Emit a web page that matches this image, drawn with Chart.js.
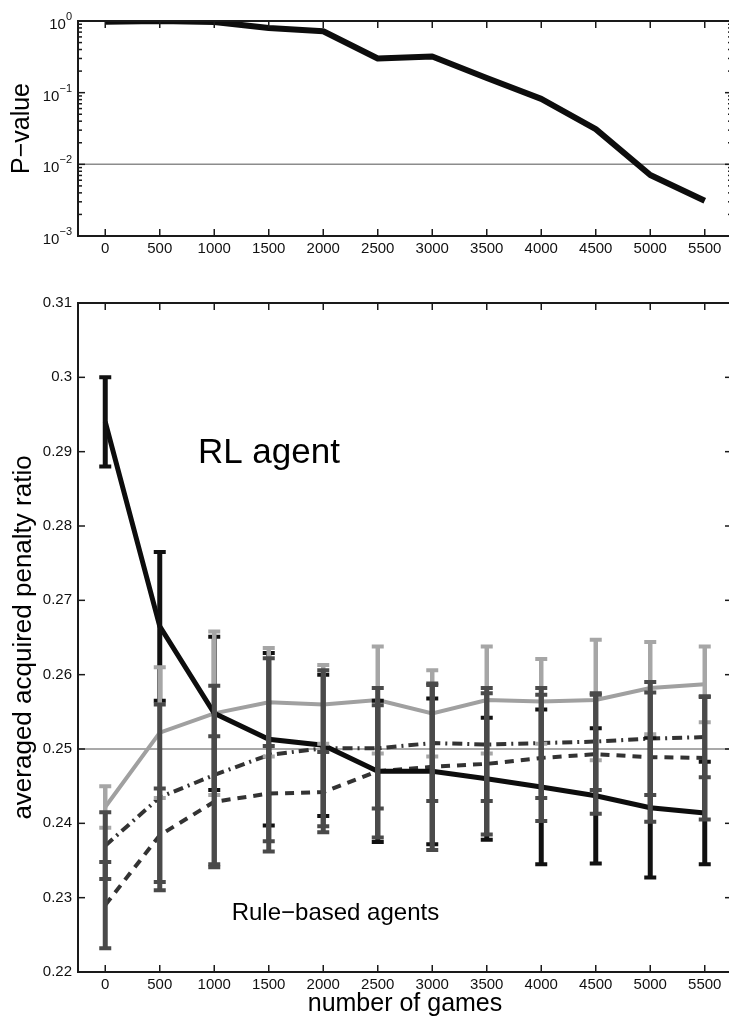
<!DOCTYPE html>
<html>
<head>
<meta charset="utf-8">
<script src="https://cdn.jsdelivr.net/npm/chart.js@4.4.1/dist/chart.umd.min.js"></script>
<style>
  html, body { margin: 0; padding: 0; width: 729px; height: 1017px; overflow: hidden; background: #fff; }
  canvas { position: absolute; left: 0; }
  #pvalue { top: 0; }
  #penalty { top: 280px; }
</style>
</head>
<body>
<canvas id="pvalue" width="736" height="262" style="width:736px;height:262px"></canvas>
<canvas id="penalty" width="736" height="737" style="width:736px;height:737px"></canvas>
<script>
// number of training games (x axis of both panels)
const games = [0, 500, 1000, 1500, 2000, 2500, 3000, 3500, 4000, 4500, 5000, 5500];
const xTickValues = [0, 500, 1000, 1500, 2000, 2500, 3000, 3500, 4000, 4500, 5000, 5500];

// top panel: p-value of the test
const pValues = [0.98, 1.0, 0.97, 0.80, 0.72, 0.30, 0.32, 0.16, 0.082, 0.031, 0.0071, 0.0031];
const pDecades = [0, -1, -2, -3];

// bottom panel: averaged acquired penalty ratio, mean and error
const rlMean = [0.294, 0.2665, 0.2548, 0.2513, 0.2505, 0.247, 0.247, 0.246, 0.2449, 0.2437, 0.2421, 0.2414];
const rlErr = [0.006, 0.010, 0.0103, 0.0116, 0.0095, 0.0095, 0.0098, 0.0082, 0.0104, 0.0091, 0.0094, 0.0069];
const ruleAMean = [0.2422, 0.2522, 0.2548, 0.2563, 0.256, 0.2566, 0.2548, 0.2566, 0.2564, 0.2566, 0.2582, 0.2587];
const ruleAErr = [0.0028, 0.0088, 0.011, 0.0073, 0.0053, 0.0072, 0.0058, 0.0072, 0.0057, 0.0081, 0.0062, 0.0051];
const ruleBMean = [0.237, 0.2435, 0.2465, 0.2492, 0.2501, 0.2501, 0.2508, 0.2506, 0.2508, 0.251, 0.2514, 0.2516];
const ruleBErr = [0.0045, 0.0125, 0.012, 0.013, 0.0105, 0.0081, 0.0078, 0.0076, 0.0074, 0.0065, 0.0076, 0.0054];
const ruleCMean = [0.229, 0.2384, 0.2429, 0.244, 0.2442, 0.247, 0.2476, 0.248, 0.2488, 0.2493, 0.2489, 0.2488];
const ruleCErr = [0.0058, 0.0063, 0.0088, 0.0064, 0.0054, 0.0089, 0.0112, 0.0095, 0.0085, 0.008, 0.0087, 0.0083];
const ratioTicks = [0.22, 0.23, 0.24, 0.25, 0.26, 0.27, 0.28, 0.29, 0.3, 0.31];

const FONT = '"Liberation Sans", Arial, Helvetica, sans-serif';
const AXIS = '#1a1a1a';

const toPts = (ys) => ys.map((v, i) => ({ x: games[i], y: v }));

// matlab-like box with inward ticks, plus a thin reference line
const boxTicks = {
  id: 'boxTicks',
  beforeDatasetsDraw(chart, args, opts) {
    const { ctx, chartArea: a, scales: { y } } = chart;
    const py = y.getPixelForValue(opts.refLine);
    ctx.save();
    ctx.strokeStyle = '#8c8c8c';
    ctx.lineWidth = 1.5;
    ctx.beginPath();
    ctx.moveTo(a.left, py);
    ctx.lineTo(a.right, py);
    ctx.stroke();
    ctx.restore();
  },
  afterDraw(chart, args, opts) {
    const { ctx, chartArea: a, scales: { x, y } } = chart;
    const seg = (x1, y1, x2, y2) => {
      ctx.beginPath();
      ctx.moveTo(x1, y1);
      ctx.lineTo(x2, y2);
      ctx.stroke();
    };
    ctx.save();
    ctx.strokeStyle = AXIS;
    ctx.lineWidth = 1.5;
    xTickValues.forEach((v) => {
      const px = x.getPixelForValue(v);
      seg(px, a.bottom, px, a.bottom - 7);
      seg(px, a.top, px, a.top + 7);
    });
    opts.yMajor.forEach((v) => {
      const py = y.getPixelForValue(v);
      seg(a.left, py, a.left + 7, py);
      seg(a.right, py, a.right - 7, py);
    });
    (opts.yMinor || []).forEach((v) => {
      const py = y.getPixelForValue(v);
      seg(a.left, py, a.left + 4, py);
      seg(a.right, py, a.right - 4, py);
    });
    ctx.lineWidth = 2;
    ctx.strokeRect(a.left, a.top, a.right - a.left, a.bottom - a.top);

    if (opts.powerLabels) {
      // 10^k labels for the log axis
      pDecades.forEach((k) => {
        const py = y.getPixelForValue(Math.pow(10, k));
        const exp = k === 0 ? '0' : '\u2212' + (-k);
        ctx.font = '11px ' + FONT;
        const ew = ctx.measureText(exp).width;
        ctx.fillStyle = '#111';
        ctx.textBaseline = 'alphabetic';
        ctx.textAlign = 'left';
        ctx.fillText(exp, 72 - ew, py - 1);
        ctx.font = '15px ' + FONT;
        ctx.textAlign = 'right';
        ctx.fillText('10', 72 - ew, py + 8);
      });
    }
    ctx.restore();
  },
};

// vertical error bars with caps, drawn from dataset.errors
const errorBars = {
  id: 'errorBars',
  afterDatasetsDraw(chart) {
    const { ctx, scales: { x, y } } = chart;
    ctx.save();
    chart.data.datasets.forEach((ds) => {
      if (!ds.errors) return;
      ctx.strokeStyle = ds.errorColor;
      ds.data.forEach((p, i) => {
        const px = x.getPixelForValue(p.x);
        const top = y.getPixelForValue(p.y + ds.errors[i]);
        const bot = y.getPixelForValue(p.y - ds.errors[i]);
        ctx.lineWidth = ds.errorWidth;
        ctx.beginPath();
        ctx.moveTo(px, top);
        ctx.lineTo(px, bot);
        ctx.stroke();
        ctx.lineWidth = 4;
        ctx.beginPath();
        ctx.moveTo(px - 6, top);
        ctx.lineTo(px + 6, top);
        ctx.moveTo(px - 6, bot);
        ctx.lineTo(px + 6, bot);
        ctx.stroke();
      });
    });
    ctx.restore();
  },
};

const textNotes = {
  id: 'textNotes',
  afterDraw(chart, args, opts) {
    const { ctx, scales: { x, y } } = chart;
    ctx.save();
    ctx.fillStyle = '#000';
    ctx.textAlign = 'left';
    ctx.textBaseline = 'alphabetic';
    opts.notes.forEach((n) => {
      ctx.font = n.size + 'px ' + FONT;
      ctx.fillText(n.text, x.getPixelForValue(n.x), y.getPixelForValue(n.y));
    });
    ctx.restore();
  },
};

const xScale = (height) => ({
  type: 'linear',
  min: -250,
  max: 5750,
  afterBuildTicks(s) { s.ticks = xTickValues.map((v) => ({ value: v })); },
  afterFit(s) { s.height = height; },
  grid: { display: false, drawTicks: false },
  border: { display: false },
  ticks: {
    color: '#111',
    padding: 4,
    font: { family: FONT, size: 15 },
    maxRotation: 0,
    autoSkip: false,
    callback: (v) => String(v),
  },
});

const minorLog = [];
[-3, -2, -1].forEach((k) => {
  for (let m = 2; m <= 9; m++) minorLog.push(m * Math.pow(10, k));
});

new Chart(document.getElementById('pvalue'), {
  type: 'line',
  data: {
    datasets: [{
      data: toPts(pValues),
      borderColor: '#0d0d0d',
      borderWidth: 6,
      borderJoinStyle: 'round',
      pointRadius: 0,
      tension: 0,
    }],
  },
  options: {
    responsive: false,
    animation: false,
    layout: { padding: { top: 21, right: 4, left: 0, bottom: 0 } },
    plugins: {
      legend: { display: false },
      tooltip: { enabled: false },
      boxTicks: { refLine: 0.01, yMajor: pDecades.map((k) => Math.pow(10, k)), yMinor: minorLog, powerLabels: true },
    },
    scales: {
      x: xScale(26),
      y: {
        type: 'logarithmic',
        min: 0.001,
        max: 1,
        afterFit(s) { s.width = 78; },
        grid: { display: false, drawTicks: false },
        border: { display: false },
        ticks: { callback: () => '' },
        title: {
          display: true,
          text: 'P\u2212value',
          color: '#000',
          font: { family: FONT, size: 25, lineHeight: 1 },
          padding: { top: 10, bottom: 0 },
        },
      },
    },
  },
  plugins: [boxTicks],
});

new Chart(document.getElementById('penalty'), {
  type: 'line',
  data: {
    datasets: [
      {
        data: toPts(rlMean),
        errors: rlErr,
        errorColor: '#111',
        errorWidth: 5,
        borderColor: '#0d0d0d',
        borderWidth: 5,
        pointRadius: 0,
        tension: 0,
      },
      {
        data: toPts(ruleAMean),
        errors: ruleAErr,
        errorColor: '#a6a6a6',
        errorWidth: 4.5,
        borderColor: '#a0a0a0',
        borderWidth: 4,
        pointRadius: 0,
        tension: 0,
      },
      {
        data: toPts(ruleBMean),
        errors: ruleBErr,
        errorColor: '#4a4a4a',
        errorWidth: 5,
        borderColor: '#333',
        borderWidth: 4,
        borderDash: [10, 5, 2, 5],
        pointRadius: 0,
        tension: 0,
      },
      {
        data: toPts(ruleCMean),
        errors: ruleCErr,
        errorColor: '#4a4a4a',
        errorWidth: 5,
        borderColor: '#333',
        borderWidth: 4,
        borderDash: [9, 7],
        pointRadius: 0,
        tension: 0,
      },
    ],
  },
  options: {
    responsive: false,
    animation: false,
    layout: { padding: { top: 23, right: 4, left: 0, bottom: 0 } },
    plugins: {
      legend: { display: false },
      tooltip: { enabled: false },
      boxTicks: { refLine: 0.25, yMajor: ratioTicks },
      textNotes: {
        notes: [
          { text: 'RL agent', x: 850, y: 0.2885, size: 35 },
          { text: 'Rule\u2212based agents', x: 1160, y: 0.227, size: 24 },
        ],
      },
    },
    scales: {
      x: Object.assign(xScale(45), {
        title: {
          display: true,
          text: 'number of games',
          color: '#000',
          font: { family: FONT, size: 25, lineHeight: 1 },
          padding: { top: 0, bottom: 0 },
        },
      }),
      y: {
        type: 'linear',
        min: 0.22,
        max: 0.31,
        afterFit(s) { s.width = 78; },
        afterBuildTicks(s) { s.ticks = ratioTicks.map((v) => ({ value: v })); },
        grid: { display: false, drawTicks: false },
        border: { display: false },
        ticks: {
          color: '#111',
          padding: 6,
          font: { family: FONT, size: 15 },
          callback: (v) => String(+v.toFixed(2)),
        },
        title: {
          display: true,
          text: 'averaged acquired penalty ratio',
          color: '#000',
          font: { family: FONT, size: 26, lineHeight: 1 },
          padding: { top: 11, bottom: 0 },
        },
      },
    },
  },
  plugins: [boxTicks, errorBars, textNotes],
});
</script>
</body>
</html>
